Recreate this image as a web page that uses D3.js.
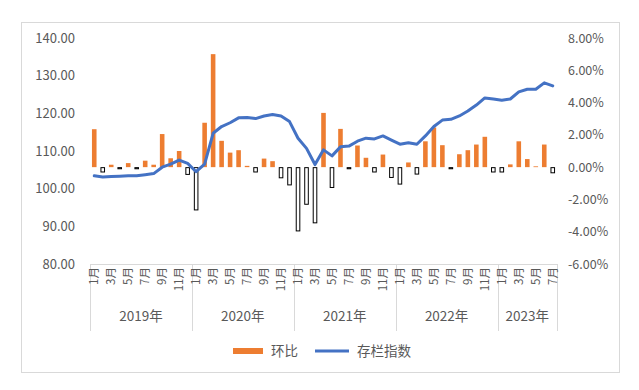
<!DOCTYPE html>
<html><head><meta charset="utf-8">
<script src="https://cdn.jsdelivr.net/npm/d3@7"></script>
<style>body{margin:0;background:#fff}text{font-family:"Noto Sans CJK SC","Noto Sans",sans-serif;fill:#595959}</style>
</head><body><svg id="c" width="639" height="390"></svg>
<script>
const years = ["2019年","2020年","2021年","2022年","2023年"];
const monthsPerYear = [12,12,12,12,7];
const monthNames = ["1月","2月","3月","4月","5月","6月","7月","8月","9月","10月","11月","12月"];
// 环比 (%), right axis
const momChange = [2.35,-0.3,0.15,-0.1,0.25,-0.1,0.4,0.15,2.05,0.55,1.0,-0.45,
  -2.65,2.75,7.0,1.63,0.9,1.05,0.08,-0.3,0.53,0.37,-0.66,-1.1,
  -3.95,-2.3,-3.45,3.36,-1.26,2.37,-0.1,1.34,0.58,-0.3,0.78,-0.64,
  -1.05,0.29,-0.43,1.6,2.46,1.36,-0.1,0.8,1.05,1.4,1.88,-0.3,
  -0.3,0.17,1.6,0.5,0.05,1.4,-0.35];
// 存栏指数, left axis
const stockIndex = [103.4,103.1,103.2,103.3,103.4,103.45,103.7,104.0,105.7,106.5,107.6,106.7,
  104.5,106.5,114.7,116.5,117.5,118.8,118.9,118.6,119.3,119.7,119.3,117.8,
  113.4,110.7,106.4,110.3,108.7,111.1,111.3,112.6,113.4,113.2,114.0,112.9,
  111.8,112.2,111.8,114.0,116.5,118.2,118.4,119.3,120.6,122.2,124.1,123.8,
  123.5,123.8,125.7,126.4,126.4,128.1,127.3];
const leftTicks = [80,90,100,110,120,130,140];
const rightTicks = [-6,-4,-2,0,2,4,6,8];

const categories = [];
years.forEach((y,i)=>{ for(let m=0;m<monthsPerYear[i];m++) categories.push({year:y, month:monthNames[m], m}); });

const svg = d3.select("#c");
const L=90, R=557, T=38, B=264;

svg.append("rect").attr("x",21.5).attr("y",22.5).attr("width",598).attr("height",350)
  .attr("fill","#fff").attr("stroke","#d9d9d9");

const x = d3.scaleBand().domain(d3.range(categories.length)).range([L,R]).paddingInner(0.46).paddingOuter(0.23);
const cx = i => x(i)+x.bandwidth()/2;
const yL = d3.scaleLinear().domain([80,140]).range([B,T]);
const yR = d3.scaleLinear().domain([-6,8]).range([B,T]);

// bars
svg.append("g").selectAll("rect").data(momChange).join("rect")
  .attr("x",(d,i)=>x(i)+(d<0?0.5:0))
  .attr("width",(d)=>d<0?x.bandwidth()-1:x.bandwidth())
  .attr("y",d=>d>=0?yR(d):yR(0)+0.5)
  .attr("height",d=>Math.max(0.5,Math.abs(yR(d)-yR(0))-(d<0?0.5:0)))
  .attr("fill",d=>d>=0?"#ED7D31":"#fff")
  .attr("stroke",d=>d>=0?"none":"#000")
  .attr("stroke-width",1);

// line
svg.append("path").datum(stockIndex)
  .attr("d",d3.line().x((d,i)=>cx(i)).y(d=>yL(d)))
  .attr("fill","none").attr("stroke","#4472C4").attr("stroke-width",3)
  .attr("stroke-linejoin","round").attr("stroke-linecap","round");

// left axis
const ga = svg.append("g").attr("transform",`translate(${L},0)`)
  .call(d3.axisLeft(yL).tickValues(leftTicks).tickFormat(d3.format(".2f")).tickSize(0).tickPadding(15));
ga.select(".domain").remove();
ga.selectAll("text").style("font-size","13px").attr("fill","#595959");
const gr = svg.append("g").attr("transform",`translate(${R},0)`)
  .call(d3.axisRight(yR).tickValues(rightTicks).tickFormat(d=>d.toFixed(2)+"%").tickSize(0).tickPadding(11));
gr.select(".domain").remove();
gr.selectAll("text").style("font-size","12.5px").attr("fill","#595959");

// category axis
svg.append("line").attr("x1",L).attr("x2",R).attr("y1",B+0.5).attr("y2",B+0.5).attr("stroke","#d9d9d9");
let start=0; const bounds=[L];
years.forEach((y,i)=>{ start+=monthsPerYear[i]; bounds.push(start>=categories.length?R:x(start)-x.step()*x.paddingInner()/2); });
svg.append("g").selectAll("line").data(bounds).join("line")
  .attr("x1",d=>Math.round(d)+0.5).attr("x2",d=>Math.round(d)+0.5).attr("y1",B).attr("y2",331)
  .attr("stroke","#d9d9d9");
svg.append("g").selectAll("text").data(categories.map((c,i)=>({...c,i})).filter(c=>c.m%2===0)).join("text")
  .attr("transform",c=>`translate(${cx(c.i)},267) rotate(-90)`)
  .attr("text-anchor","end").attr("dy","0.35em").style("font-size","11.5px").text(c=>c.month);
svg.append("g").selectAll("text").data(years).join("text")
  .attr("x",(d,i)=>(bounds[i]+bounds[i+1])/2).attr("y",321).attr("text-anchor","middle")
  .style("font-size","13.5px").text(d=>d);

// legend
const lg = svg.append("g");
lg.append("rect").attr("x",233).attr("y",348).attr("width",30).attr("height",6).attr("fill","#ED7D31");
lg.append("text").attr("x",271).attr("y",351).attr("dy","0.35em").style("font-size","13.5px").text("环比");
lg.append("line").attr("x1",315).attr("x2",349).attr("y1",351).attr("y2",351).attr("stroke","#4472C4").attr("stroke-width",3);
lg.append("text").attr("x",357).attr("y",351).attr("dy","0.35em").style("font-size","13.5px").text("存栏指数");
</script></body></html>
